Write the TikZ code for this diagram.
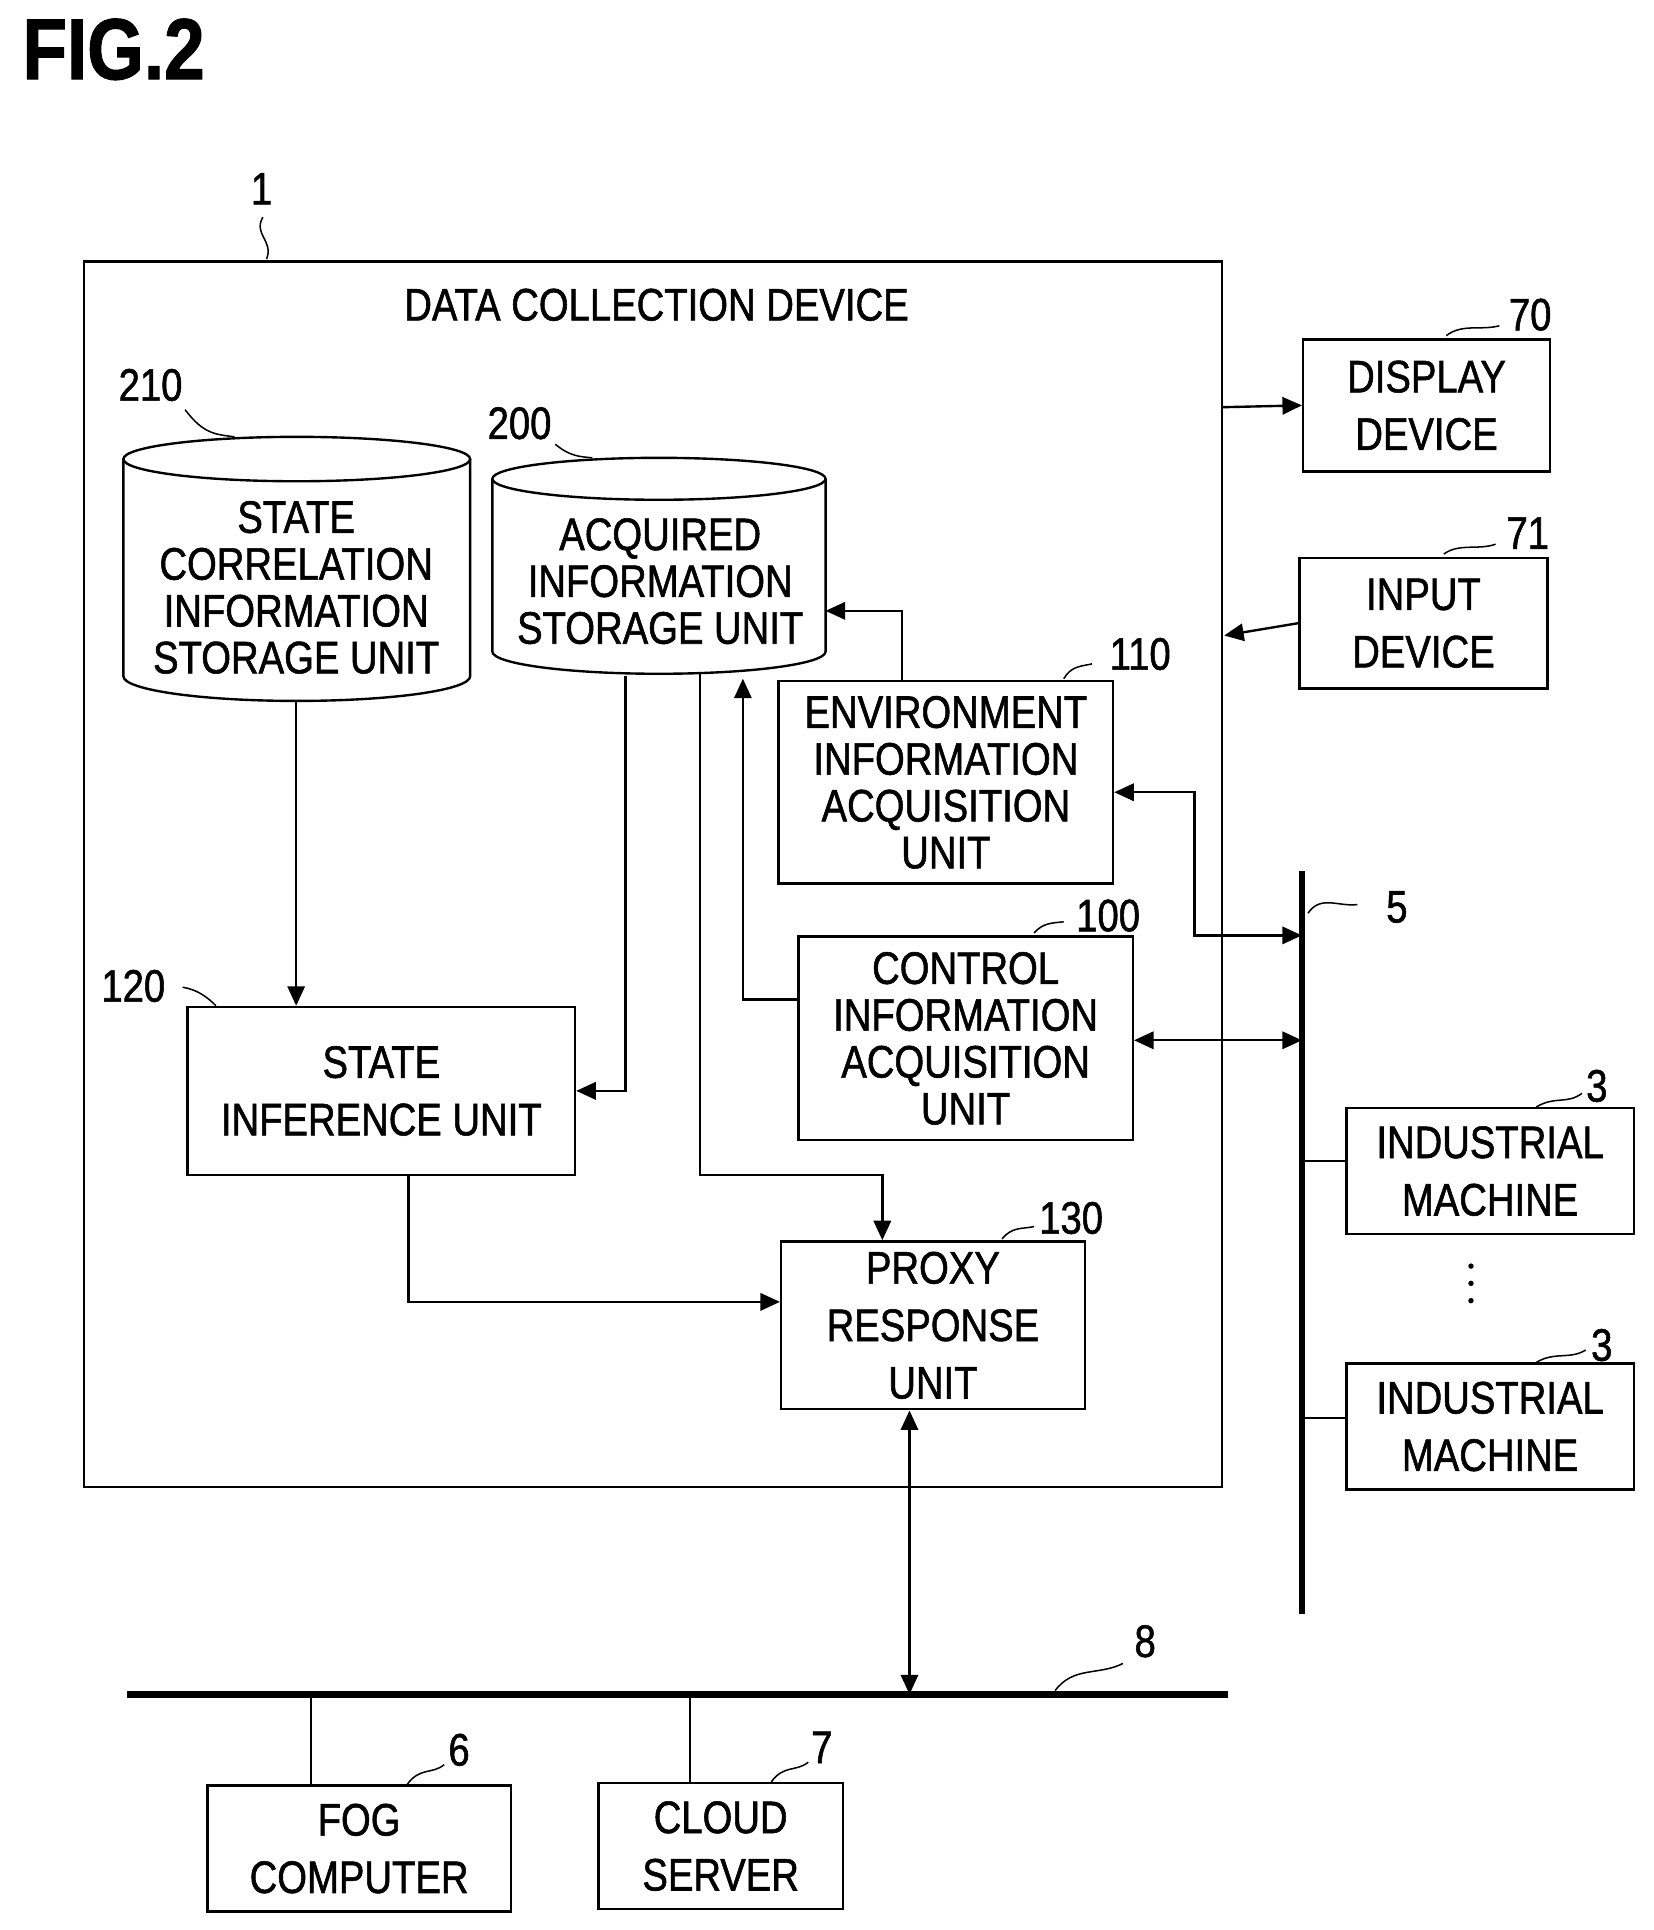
\documentclass[tikz,border=0pt]{standalone}
\usepackage{fontspec}
\setmainfont{Liberation Sans}[FakeStretch=0.84,FakeBold=1.2]
\usetikzlibrary{arrows.meta}
\begin{document}
\begin{tikzpicture}[x=0.02cm,y=-0.02cm,
 ln/.style={line width=1.1pt},
 ar/.style={ln,-{Triangle[length=9pt,width=8pt]}},
 dar/.style={ln,{Triangle[length=9pt,width=8pt]}-{Triangle[length=9pt,width=8pt]}},
 bx/.style={draw,ln,inner sep=0pt},
 t/.style={font=\fontsize{21}{21.6}\selectfont,align=center,inner sep=0pt},
 tw/.style={font=\fontsize{21}{26.5}\selectfont,align=center,inner sep=0pt},
 num/.style={font=\fontsize{21}{24}\selectfont,inner sep=0pt},
 sq/.style={line width=0.7pt}]
\useasboundingbox (0,0) rectangle (1340,1564);
\node[font=\fontsize{40}{40}\selectfont\bfseries,anchor=west] (fig) at (12,40) {FIG.2};
% outer
\node[bx,minimum width=922*0.02cm,minimum height=993*0.02cm] (dev) at (529,708.5) {};
\node[t] (devl) at (532,247) {DATA COLLECTION DEVICE};
\node[num] (n1) at (212,153) {1};
\draw[sq] (213,176) .. controls (205,190) and (222,195) .. (216,210);
% cylinders
\draw[ln] (100,372) -- (100,548) arc[start angle=180,end angle=0,x radius=140.5,y radius=20] -- (381,372);
\draw[ln] (240.5,372) ellipse[x radius=140.5,y radius=18];
\coordinate (c210b) at (240,568);
\node[t] (c210) at (240,476) {STATE\\CORRELATION\\INFORMATION\\STORAGE UNIT};
\draw[ln] (399,388) -- (399,528) arc[start angle=180,end angle=0,x radius=135,y radius=18] -- (669,388);
\draw[ln] (534,388) ellipse[x radius=135,y radius=17];
\node[t] (c200) at (535,471) {ACQUIRED\\INFORMATION\\STORAGE UNIT};
\node[num] (n210) at (122,312) {210};
\draw[sq] (150,332) .. controls (165,352) and (175,352) .. (190,354);
\node[num] (n200) at (421,343) {200};
\draw[sq] (450,360) .. controls (462,370) and (470,370) .. (480,371);
% boxes
\node[bx,minimum width=271*0.02cm,minimum height=164*0.02cm] (env) at (766.5,634) {};
\node[t] at (env) {ENVIRONMENT\\INFORMATION\\ACQUISITION\\UNIT};
\node[num] (n110) at (924,530) {110};
\draw[sq] (862,550) .. controls (868,540) and (875,540) .. (885,538);
\node[bx,minimum width=271*0.02cm,minimum height=165*0.02cm] (ctl) at (782.5,841.5) {};
\node[t] at (ctl) {CONTROL\\INFORMATION\\ACQUISITION\\UNIT};
\node[num] (n100) at (898,742) {100};
\draw[sq] (838,756) .. controls (845,748) and (852,748) .. (862,747);
\node[bx,minimum width=314*0.02cm,minimum height=136*0.02cm] (inf) at (309,884) {};
\node[tw] at (inf) {STATE\\INFERENCE UNIT};
\node[num] (n120) at (108,799) {120};
\draw[sq] (148,800) .. controls (160,802) and (168,808) .. (175,815);
\node[bx,minimum width=246*0.02cm,minimum height=136*0.02cm] (prx) at (756,1074) {};
\node[tw] at (prx) {PROXY\\RESPONSE\\UNIT};
\node[num] (n130) at (868,987) {130};
\draw[sq] (812,1004) .. controls (820,994) and (828,996) .. (838,994);
\node[bx,minimum width=200*0.02cm,minimum height=107*0.02cm] (dsp) at (1156,328.5) {};
\node[tw] at (dsp) {DISPLAY\\DEVICE};
\node[num] (n70) at (1240,255) {70};
\draw[sq] (1172,272) .. controls (1185,262) and (1200,268) .. (1215,264);
\node[bx,minimum width=201*0.02cm,minimum height=106*0.02cm] (inp) at (1153.5,505) {};
\node[tw] at (inp) {INPUT\\DEVICE};
\node[num] (n71) at (1238,432) {71};
\draw[sq] (1170,449) .. controls (1182,440) and (1198,446) .. (1212,441);
% bus 5
\coordinate (b5t) at (1055,706); \coordinate (b5b) at (1055,1308);
\draw[line width=3pt] (b5t) -- (b5b);
\node[num] (n5) at (1132,735) {5};
\draw[sq] (1060,740) .. controls (1070,725) and (1085,735) .. (1100,733);
\node[bx,minimum width=233*0.02cm,minimum height=102*0.02cm] (im1) at (1207.5,949) {};
\node[tw] at (im1) {INDUSTRIAL\\MACHINE};
\node[bx,minimum width=233*0.02cm,minimum height=102*0.02cm] (im2) at (1207.5,1156) {};
\node[tw] at (im2) {INDUSTRIAL\\MACHINE};
\node[num] (n3a) at (1294,880) {3};
\draw[sq] (1245,897) .. controls (1260,888) and (1270,895) .. (1282,886);
\node[num] (n3b) at (1298,1090) {3};
\draw[sq] (1245,1104) .. controls (1260,1095) and (1272,1102) .. (1285,1094);
\foreach \yy in {1026,1040,1054} \fill (1192,\yy) circle[radius=2.2];
\draw[ln] (1055,941) -- (im1.west|-1055,941);
\draw[ln] (1055,1149) -- (im2.west|-1055,1149);
% bus 8
\coordinate (b8l) at (103,1373); \coordinate (b8r) at (995,1373);
\draw[line width=3pt] (b8l) -- (b8r);
\node[num] (n8) at (928,1330) {8};
\draw[sq] (855,1370) .. controls (870,1350) and (890,1358) .. (910,1348);
\node[bx,minimum width=246*0.02cm,minimum height=102*0.02cm] (fog) at (291,1498) {};
\node[tw] at (fog) {FOG\\COMPUTER};
\node[bx,minimum width=198*0.02cm,minimum height=102*0.02cm] (cld) at (584,1496) {};
\node[tw] at (cld) {CLOUD\\SERVER};
\node[num] (n6) at (372,1418) {6};
\draw[sq] (330,1446) .. controls (340,1432) and (350,1438) .. (360,1430);
\node[num] (n7) at (666,1416) {7};
\draw[sq] (625,1444) .. controls (635,1430) and (645,1436) .. (655,1428);
\draw[ln] (252,1373) -- (252,1447);
\draw[ln] (559,1373) -- (559,1445);
% arrows
\draw[ar] (990,330) -- (dsp.west);
\draw[ar] (inp.west) -- (992,515);
\draw[ar] (c210b) -- (inf.north-|c210b);
\draw[ar] (507,548) |- (inf.east|-507,884);
\draw[ar] (567,546) -- (567,952) -| (prx.north-|715,0);
\draw[ar] (env.north-|731,0) |- (669,495);
\draw[ar] (ctl.west|-0,810) -| (602,550);
\draw[dar] (env.east|-0,642) -- (968,642) |- (1055,758);
\draw[dar] (ctl.east|-0,843) -- (1055,843);
\draw[ar] (inf.south-|331,0) |- (prx.west|-0,1055);
\draw[dar] (prx.south-|737,0) -- (737,1373);
\end{tikzpicture}
\end{document}
